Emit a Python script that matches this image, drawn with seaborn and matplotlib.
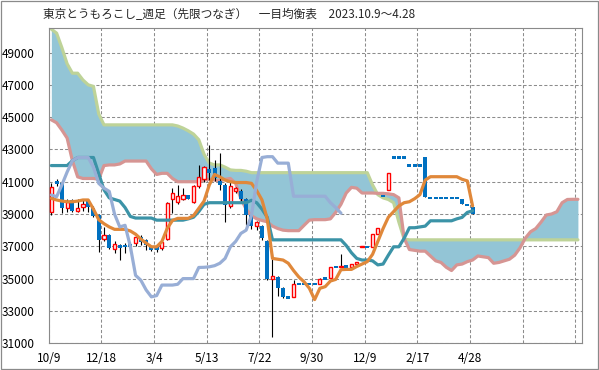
import numpy as np
import pandas as pd
import matplotlib
matplotlib.use('Agg')
import matplotlib.pyplot as plt
import seaborn as sns
from matplotlib.patches import Rectangle

sns.set_style('white')
plt.rcParams['font.family'] = ['Noto Sans CJK JP', 'DejaVu Sans']

# ============================================================
# データ（週足・先限つなぎ）
# ============================================================
TITLE = '東京とうもろこし_週足（先限つなぎ）　一目均衡表　2023.10.9～4.28'
X_LABELS = ['10/9', '12/18', '3/4', '5/13', '7/22', '9/30', '12/9', '2/17', '4/28', '', '']
Y_TICKS = [31000, 33000, 35000, 37000, 39000, 41000, 43000, 45000, 47000, 49000]

OPEN = [39100, 41050, 40900, 39400, 39850, 39200, 39420, 39870, 39400, 38950,
        37430, 37700, 36810, 37080, 37140, 37170, 37180, 37600, 37400, 36970,
        36950, 36870, 37430, 39910, 39760, 39910, 40150, 39760, 40730, 41150,
        41760, 41830, 41050, 40800, 39500, 40400, 40450, 39900, 38950, 38250,
        38250, 37300, 34950, 35100, 34430, 33930, 33870, 34650, 34650, 34650,
        34650, 34650, 35010, 35010, 35730, 35720, 35750, 35730, 35880, 36950,
        36970, 36970, 37740, 40120, 40500, 42500, 42500, 42500, 42000, 42000,
        42000, 42550, 40000, 40000, 40000, 40000, 40000, 40000, 39950, 39580,
        39450]
HIGH = [40900, 41150, 41000, 39950, 39950, 39950, 39900, 39950, 39500, 39000,
        38200, 37750, 37300, 37150, 37200, 37250, 37650, 37700, 37450, 37050,
        37000, 37300, 39750, 40600, 40800, 40600, 40200, 40800, 42050, 42000,
        43250, 42350, 42750, 40900, 41000, 40700, 40550, 40000, 39000, 38550,
        38300, 37400, 36550, 35150, 34450, 33950, 34900, 34650, 34650, 34650,
        34650, 35010, 35010, 35730, 35730, 36520, 35750, 35900, 36020, 36990,
        36970, 37740, 38110, 40120, 41560, 42500, 42500, 42500, 42000, 42000,
        42000, 42550, 40000, 40000, 40000, 40000, 40000, 40000, 39950, 39580,
        39450]
LOW = [38950, 40750, 39050, 39100, 39100, 39100, 39200, 39150, 38800, 36650,
       37300, 36850, 36600, 36150, 36600, 36700, 37000, 37100, 36750, 36700,
       36650, 36800, 37400, 39050, 39600, 39850, 39900, 39700, 40600, 41000,
       41100, 41050, 40500, 38500, 39400, 40300, 39800, 38300, 38050, 38000,
       37400, 34900, 31400, 33950, 33800, 33800, 33850, 34650, 34650, 34650,
       34650, 34640, 35010, 35010, 35730, 35720, 35750, 35730, 35880, 36950,
       36970, 36970, 37740, 40120, 40500, 42500, 42500, 42500, 42000, 42000,
       42000, 40080, 40000, 40000, 40000, 40000, 40000, 40000, 39600, 39580,
       39000]
CLOSE = [40700, 40850, 39350, 39750, 39200, 39380, 39650, 39450, 38900, 37400,
         37700, 36900, 37120, 36920, 37030, 37050, 37550, 37280, 37080, 36870,
         36770, 37280, 39700, 40320, 40110, 40150, 39950, 40730, 41270, 41900,
         41560, 41200, 40800, 39560, 40750, 40600, 39900, 38950, 38250, 38480,
         37500, 34950, 35150, 34400, 33870, 33830, 34640, 34650, 34650, 34650,
         34650, 35000, 35010, 35730, 35730, 35780, 35750, 35900, 36020, 36990,
         36970, 37740, 38110, 40120, 41550, 42500, 42500, 42500, 42000, 42000,
         42000, 40080, 40000, 40000, 40000, 40000, 40000, 40000, 39600, 39580,
         39000]

# 転換線
TENKAN = [39970, 39870, 39800, 39760, 39760, 39800, 39870, 39870, 39300, 38650,
          38400, 38200, 38050, 38050, 38050, 37950, 37750, 37450, 37200, 36970,
          36970, 37300, 38100, 38600, 38730, 38730, 38730, 38900, 39350, 39800,
          40800, 41450, 41300, 41100, 41000, 40950, 40950, 40950, 40900, 40450,
          39870, 38700, 36250, 36200, 36150, 35950, 35500, 35100, 34800, 34400,
          33700, 34400, 34500, 34850, 34950, 35550, 35570, 35570, 35750, 35900,
          36050, 36500, 37300, 38100, 38800, 39150, 39500, 39700, 39760, 39950,
          40200, 41100, 41310, 41310, 41310, 41310, 41310, 41310, 41150, 41050,
          39500]
# 基準線
KIJUN = [42000, 42000, 42000, 42000, 42300, 42500, 42500, 42500, 42500, 41500,
         40500, 40000, 39900, 39800, 39400, 38850, 38750, 38750, 38750, 38750,
         38620, 38620, 38620, 38620, 38620, 38620, 38700, 38800, 39150, 39600,
         39700, 39700, 39700, 39700, 39700, 39700, 39700, 39700, 39850, 39700,
         39300, 38800, 37400, 37400, 37400, 37400, 37400, 37400, 37400, 37400,
         37400, 37400, 37400, 37400, 37400, 37400, 37050, 36600, 36250, 36150,
         36150, 36100, 35850, 35900, 36450, 36970, 36970, 37500, 38150, 38150,
         38200, 38250, 38580, 38580, 38580, 38580, 38580, 38700, 38790, 39100,
         39200]
# 遅行スパン
CHIKOU = [40180, 40070, 40800, 41600, 42300, 42500, 42500, 42500, 41900, 40900,
          40600, 40400, 39000, 38200, 38300, 37000, 35200, 34900, 34300, 33870,
          33950, 34600, 34600, 34600, 34650, 35000, 35000, 35000, 35690, 35700,
          35730, 35800, 35950, 36250, 36970, 37300, 37800, 38000, 38900, 41000,
          42500, 42550, 42550, 42150, 42150, 42150, 40100, 40100, 40100, 40100,
          40100, 40100, 40100, 39700, 39400, 39050]
# 先行スパン1
SENKOU_A = [44830, 44650, 44200, 43700, 42300, 41300, 41200, 41200, 41200, 41150,
            42000, 42040, 42040, 42100, 42280, 42280, 42280, 42280, 42280, 41800,
            41450, 41520, 41520, 41200, 41000, 41000, 41000, 41000, 41000, 41100,
            41150, 41100, 41050, 41150, 41200, 40900, 39950, 39300, 38900, 38700,
            38600, 38520, 38250, 38100, 38000, 37970, 37970, 37970, 38300, 38620,
            38650, 38650, 38650, 38700, 39100, 39600, 40300, 40650, 40600, 40300,
            40300, 40300, 40280, 40280, 40250, 40200, 40000, 37500, 36800, 36750,
            36700, 36700, 36400, 36100, 36000, 35700, 35500, 35850, 35900, 36050,
            36150, 36400, 36350, 36300, 35950, 36000, 36100, 36200, 36450, 36900,
            37500, 37900, 38100, 38500, 38940, 39000, 39140, 39700, 39900, 39910,
            39910]
# 先行スパン2
SENKOU_B = [50450, 50200, 49300, 48300, 47720, 47720, 47300, 47000, 46900, 45200,
            44520, 44520, 44520, 44520, 44520, 44520, 44520, 44520, 44520, 44520,
            44520, 44520, 44520, 44520, 44450, 44320, 44150, 43950, 43600, 42700,
            42150, 42040, 42040, 41900, 41730, 41700, 41700, 41650, 41560, 41560,
            41560, 41560, 41560, 41560, 41560, 41560, 41560, 41560, 41560, 41560,
            41560, 41560, 41560, 41560, 41560, 41560, 41560, 41560, 41560, 41560,
            41560, 40800, 40200, 40000, 39900, 39700, 38500, 37450, 37400, 37400,
            37400, 37400, 37400, 37400, 37400, 37400, 37400, 37400, 37400, 37400,
            37400, 37400, 37400, 37400, 37400, 37400, 37400, 37400, 37400, 37400,
            37400, 37400, 37400, 37400, 37400, 37400, 37400, 37400, 37400, 37400,
            37400]

C_CLOUD = '#93C5D6'
C_SPAN_B = '#BED398'
C_SPAN_A = '#D69593'
C_TENKAN = '#E0883A'
C_KIJUN = '#3B93A7'
C_CHIKOU = '#98AED6'
C_DOWN = '#0070C0'
C_UP = '#FF0000'


def draw_line(ax, values, color, z):
    df = pd.DataFrame({'x': np.arange(len(values)), 'y': values})
    sns.lineplot(data=df, x='x', y='y', ax=ax, color=color, lw=2.3, zorder=z,
                 legend=False, solid_joinstyle='round', solid_capstyle='round')


def draw_candles(ax):
    idx = np.arange(len(OPEN))
    o = np.array(OPEN, dtype=float)
    c = np.array(CLOSE, dtype=float)
    up = c > o
    ax.vlines(idx, LOW, HIGH, color='black', lw=0.8, zorder=3)
    lo = np.minimum(o, c)
    h = np.abs(c - o)
    # 陽線（白抜き赤枠）
    ax.bar(idx[up], h[up], bottom=lo[up], width=0.6, color='white',
           edgecolor=C_UP, lw=1.0, zorder=4)
    # 陰線（青塗り）、同値は横線として表示
    hmin = 140
    hd = np.maximum(h[~up], hmin)
    bd = np.where(h[~up] < hmin, lo[~up] - hmin / 2, lo[~up])
    ax.bar(idx[~up], hd, bottom=bd, width=0.76, color=C_DOWN,
           edgecolor='none', zorder=4)


def main():
    fig = plt.figure(figsize=(5.99, 3.70), dpi=100)
    ax = fig.add_axes([48.7 / 599, 1 - 343.2 / 370, 533 / 599, 314.9 / 370])

    n = len(SENKOU_A)
    xs = np.arange(n)
    ax.fill_between(xs, SENKOU_A, SENKOU_B, color=C_CLOUD, lw=0, zorder=1)
    draw_line(ax, SENKOU_B, C_SPAN_B, 2)
    draw_line(ax, SENKOU_A, C_SPAN_A, 2.1)
    draw_candles(ax)
    draw_line(ax, KIJUN, C_KIJUN, 5)
    draw_line(ax, TENKAN, C_TENKAN, 5.1)
    draw_line(ax, CHIKOU, C_CHIKOU, 5.2)

    ax.set_xlim(-0.5, 100.72)
    ax.set_ylim(31000, 50500)
    ax.set_xticks([-0.5 + 10 * k for k in range(len(X_LABELS))])
    ax.set_xticklabels(X_LABELS)
    ax.set_yticks(Y_TICKS)
    ax.set_yticklabels([str(v) for v in Y_TICKS])
    ax.set_xlabel('')
    ax.set_ylabel('')

    ax.grid(True, color='#8c8c8c', linestyle=(0, (3, 2)), lw=0.75, zorder=0)
    ax.set_axisbelow(True)
    for s in ax.spines.values():
        s.set_color('#8a8a8a')
        s.set_linewidth(0.8)
    ax.tick_params(axis='both', direction='out', length=3, width=0.8,
                   color='#8a8a8a', labelsize=8.5, labelcolor='black')
    ax.tick_params(axis='y', pad=7)
    ax.tick_params(axis='x', pad=3)

    fig.text(43 / 599, 1 - 14.5 / 370, TITLE, fontsize=8.4, ha='left', va='center')
    fig.add_artist(Rectangle((0.6 / 599, 0.6 / 370), 597.6 / 599, 368.3 / 370,
                             transform=fig.transFigure, fill=False,
                             ec='#8a8a8a', lw=0.9))

    fig.savefig('out.png', dpi=100)
    plt.close(fig)


if __name__ == '__main__':
    main()
